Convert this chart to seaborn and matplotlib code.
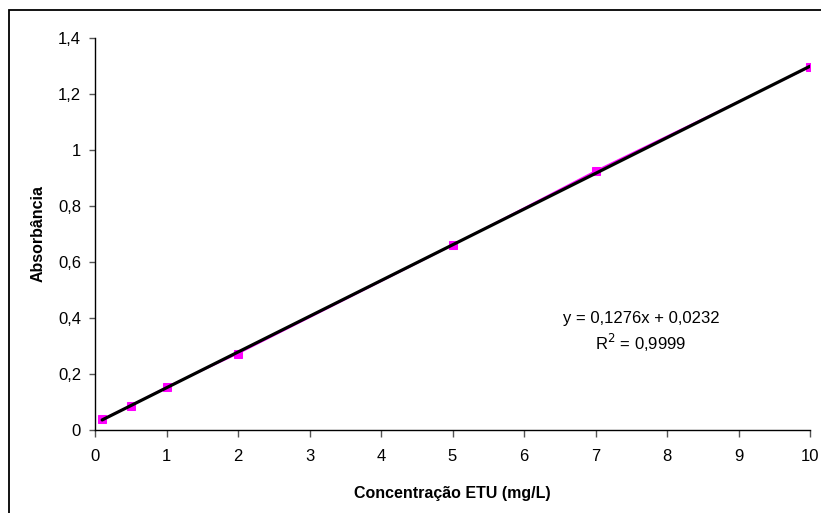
import numpy as np
import pandas as pd
import matplotlib
matplotlib.use("Agg")
import matplotlib.pyplot as plt
import seaborn as sns
from matplotlib.patches import Rectangle
from matplotlib.ticker import FuncFormatter

# Data
concentracao = [0.1, 0.5, 1, 2, 5, 7, 10]
absorbancia = [0.038, 0.087, 0.153, 0.273, 0.660, 0.925, 1.297]
slope, intercept = 0.1276, 0.0232
eq_text = "y = 0,1276x + 0,0232"
r2_text = "R$^2$ = 0,9999"

sns.set_theme(style="white")
plt.rcParams["font.family"] = ["Liberation Sans", "DejaVu Sans"]
plt.rcParams["text.color"] = "black"
plt.rcParams["axes.labelcolor"] = "black"

df = pd.DataFrame({"x": concentracao, "y": absorbancia})

fig = plt.figure(figsize=(8.21, 5.13), dpi=100)
ax = fig.add_axes([95 / 821, 1 - 430 / 513, 715 / 821, 392 / 513])

# outer frame (Excel chart area)
fig.patches.append(Rectangle((9 / 821, -0.2), 1.2, 1 - 10 / 513 + 0.2,
                             transform=fig.transFigure, fill=False,
                             edgecolor="black", linewidth=1.3))

sns.lineplot(data=df, x="x", y="y", ax=ax, color="#FF00FF", linewidth=1.2,
             marker="s", markersize=6, markeredgecolor="#FF00FF")

xs = np.array([min(concentracao), max(concentracao)])
ax.plot(xs, slope * xs + intercept, color="black", linewidth=2.3)

ax.set_xlim(0, 10)
ax.set_ylim(0, 1.4)
ax.set_xticks(range(0, 11))
ax.set_yticks(np.arange(0, 1.41, 0.2))
ax.yaxis.set_major_formatter(FuncFormatter(lambda v, p: f"{v:.1f}".rstrip("0").rstrip(".").replace(".", ",")))

for s in ["top", "right"]:
    ax.spines[s].set_visible(False)
for s in ["left", "bottom"]:
    ax.spines[s].set_color("black")
    ax.spines[s].set_linewidth(1)
ax.tick_params(axis="both", which="major", direction="out", length=4, width=1,
               color="#555555", labelsize=12, labelcolor="black", bottom=True, left=True)
ax.tick_params(axis="x", pad=9, length=5)
ax.tick_params(axis="y", pad=6)

ax.set_xlabel("Concentração ETU (mg/L)", fontsize=11.5, fontweight="bold", color="black")
ax.set_ylabel("Absorbância", fontsize=11.5, fontweight="bold", color="black")
ax.xaxis.set_label_coords(0.5, -0.161)
ax.xaxis.label.set_va("center")
ax.yaxis.set_label_coords(-0.0797, 0.5)
ax.yaxis.label.set_va("center")

ax.text(641, 513 - 319, eq_text, transform=None, fontsize=12, ha="center", va="center", color="black")
ax.text(641, 513 - 343, r2_text, transform=None, fontsize=12, ha="center", va="center", color="black")

fig.savefig("out.png", dpi=100)
